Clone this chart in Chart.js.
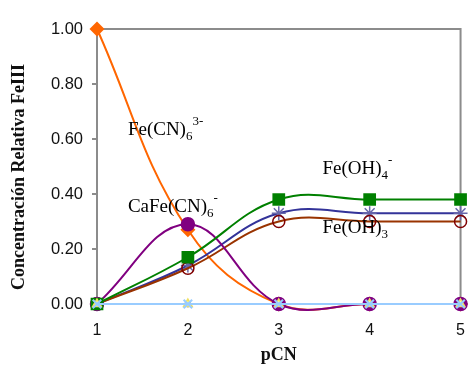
<!DOCTYPE html>
<html>
<head>
<meta charset="utf-8">
<script src="https://cdn.jsdelivr.net/npm/chart.js@4.4.0/dist/chart.umd.min.js"></script>
<style>
  html, body { margin: 0; padding: 0; background: #fff; }
  #wrap { width: 474px; height: 377px; }
</style>
</head>
<body>
<div id="wrap"><canvas id="chart" width="474" height="377"></canvas></div>
<script>
// pCN values
const pcn = [1, 2, 3, 4, 5];

// Relative concentration of each Fe(III) species
const feCN6 = [1.00, 0.27, 0.00, 0.00, 0.00];
const caFeCN6 = [0.00, 0.29, 0.00, 0.00, 0.00];
const feOH4 = [0.00, 0.17, 0.38, 0.38, 0.38];
const feBlue = [0.00, 0.14, 0.33, 0.33, 0.33];
const feOH3 = [0.00, 0.13, 0.30, 0.30, 0.30];
const zeroA = [0.00, 0.00, 0.00, 0.00, 0.00];
const zeroB = [0.00, 0.00, 0.00, 0.00, 0.00];
const zeroC = [0.00, 0.00, 0.00, 0.00, 0.00];

const yTicks = [0, 0.2, 0.4, 0.6, 0.8, 1.0];
const yTitle = 'Concentración Relativa FeIII';

// Species labels placed in data coordinates
const speciesLabels = [
    { x: 1.34, y: 0.615, main: 'Fe(CN)', sub: '6', sup: '3-' },
    { x: 1.34, y: 0.333, main: 'CaFe(CN)', sub: '6', sup: '-' },
    { x: 3.48, y: 0.472, main: 'Fe(OH)', sub: '4', sup: '-' },
    { x: 3.48, y: 0.260, main: 'Fe(OH)', sub: '3', sup: '' }
];

const toPoints = arr => arr.map((v, i) => ({ x: pcn[i], y: v }));

const serif = '"Liberation Serif", "Times New Roman", serif';

// Frame, y title and species labels
const decorPlugin = {
    id: 'decor',
    beforeDatasetsDraw(chart) {
        const { ctx, chartArea: a } = chart;
        ctx.save();
        ctx.strokeStyle = '#8c8c8c';
        ctx.lineWidth = 2;
        ctx.beginPath();
        ctx.moveTo(a.left, a.top);
        ctx.lineTo(a.right, a.top);
        ctx.lineTo(a.right, a.bottom);
        ctx.stroke();

        // y axis title, sits a bit lower than centre like the original
        ctx.translate(19, 177);
        ctx.rotate(-Math.PI / 2);
        ctx.font = 'bold 18px ' + serif;
        ctx.fillStyle = '#111';
        ctx.textAlign = 'center';
        ctx.textBaseline = 'middle';
        ctx.fillText(yTitle, 0, 0);
        ctx.restore();
    },
    afterDatasetsDraw(chart) {
        const { ctx, scales } = chart;
        ctx.save();
        ctx.fillStyle = '#000';
        ctx.textBaseline = 'alphabetic';
        speciesLabels.forEach(l => {
            let px = scales.x.getPixelForValue(l.x);
            const py = scales.y.getPixelForValue(l.y);
            ctx.font = '19px ' + serif;
            ctx.fillText(l.main, px, py);
            px += ctx.measureText(l.main).width;
            ctx.font = '13px ' + serif;
            ctx.fillText(l.sub, px, py + 5);
            px += ctx.measureText(l.sub).width;
            if (l.sup) ctx.fillText(l.sup, px, py - 10);
        });
        ctx.restore();
    }
};

const lineBase = {
    borderWidth: 2,
    tension: 0.4,
    capBezierPoints: false,
    clip: 12,
    pointBorderWidth: 1.5
};

new Chart(document.getElementById('chart'), {
    type: 'line',
    data: {
        datasets: [
            { ...lineBase, label: 'zero A', data: toPoints(zeroA), borderColor: '#99ccff',
              pointStyle: 'crossRot', pointRadius: 6, pointBorderWidth: 2, pointBorderColor: '#99ccff', pointBackgroundColor: '#99ccff', order: 1 },
            { ...lineBase, label: 'zero B', data: toPoints(zeroB), borderColor: '#ffff66', showLine: false,
              pointStyle: 'triangle', pointRadius: 5, pointBorderColor: '#f0e060', pointBackgroundColor: '#ffff99', order: 2 },
            { ...lineBase, label: 'zero C', data: toPoints(zeroC), borderColor: '#000099', showLine: false,
              pointStyle: 'circle', pointRadius: 2.5, pointBorderColor: '#0000aa', pointBackgroundColor: '#0000aa', order: 3 },
            { ...lineBase, label: 'CaFe(CN)6-', data: toPoints(caFeCN6), borderColor: '#800080',
              pointStyle: 'circle', pointRadius: 6.5, pointBorderColor: '#800080', pointBackgroundColor: '#800080', order: 5 },
            { ...lineBase, label: 'Fe(OH)4-', data: toPoints(feOH4), borderColor: '#008000',
              pointStyle: 'rect', pointRadius: 9, pointBorderWidth: 0, pointBackgroundColor: '#008000', order: 4 },
            { ...lineBase, label: 'Fe(OH)3', data: toPoints(feOH3), borderColor: '#993300',
              pointStyle: 'circle', pointRadius: 6, pointBorderColor: '#800000', pointBackgroundColor: 'rgba(255,255,255,0)', order: 6 },
            { ...lineBase, label: 'azul', data: toPoints(feBlue), borderColor: '#333399',
              pointStyle: 'star', pointRadius: 7, pointBorderColor: '#6666aa', pointBackgroundColor: '#6666aa', order: 7 },
            { ...lineBase, label: 'Fe(CN)6 3-', data: toPoints(feCN6), borderColor: '#ff6600',
              pointStyle: 'rectRot', pointRadius: 7.5, pointBorderWidth: 0, pointBackgroundColor: '#ff6600', order: 8 }
        ]
    },
    options: {
        responsive: false,
        animation: false,
        layout: { padding: { left: 0, right: 12, top: 29, bottom: 0 } },
        plugins: { legend: { display: false }, tooltip: { enabled: false } },
        scales: {
            x: {
                type: 'linear',
                min: 1,
                max: 5,
                afterBuildTicks: s => { s.ticks = pcn.map(v => ({ value: v })); },
                afterFit: s => { s.height = 73; },
                border: { display: false },
                grid: { display: false },
                ticks: {
                    padding: 9,
                    color: '#111',
                    font: { family: '"Liberation Sans", Arial, sans-serif', size: 16 },
                    callback: v => String(v)
                },
                title: {
                    display: true,
                    text: 'pCN',
                    color: '#111',
                    padding: { top: 0, bottom: 11 },
                    font: { family: serif, size: 18, weight: 'bold' }
                }
            },
            y: {
                min: 0,
                max: 1,
                afterBuildTicks: s => { s.ticks = yTicks.map(v => ({ value: v })); },
                afterFit: s => { s.width = 97; },
                border: { display: true, color: '#8c8c8c', width: 2 },
                grid: { drawOnChartArea: false, drawTicks: true, tickLength: 5, color: '#8c8c8c', lineWidth: 2 },
                ticks: {
                    padding: 9,
                    color: '#111',
                    font: { family: '"Liberation Sans", Arial, sans-serif', size: 16.5 },
                    callback: v => Number(v).toFixed(2)
                },
                title: { display: false }
            }
        }
    },
    plugins: [decorPlugin]
});
</script>
</body>
</html>
